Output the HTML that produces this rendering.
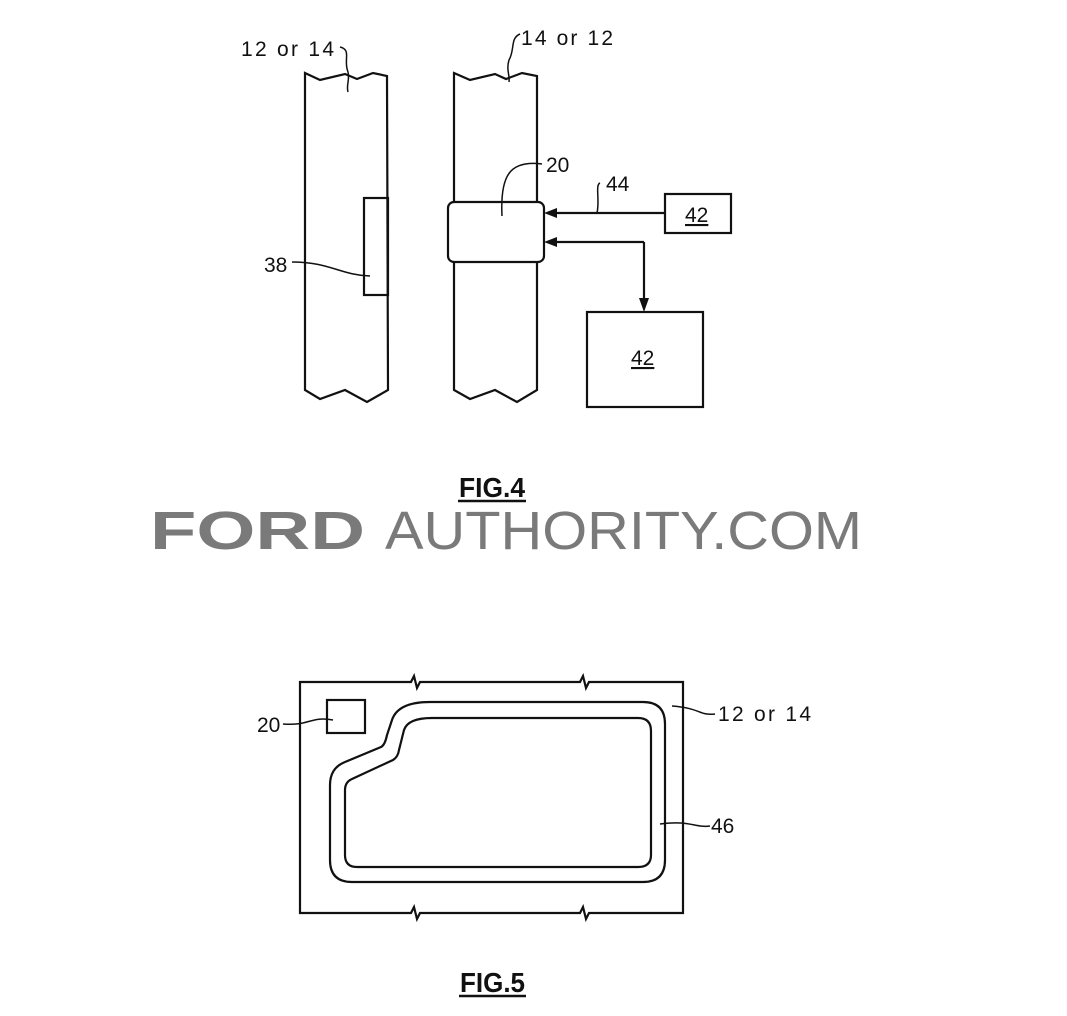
<!DOCTYPE html>
<html><head><style>body{margin:0;background:#fff}svg{display:block}</style></head><body>
<svg width="1067" height="1016" viewBox="0 0 1067 1016" xmlns="http://www.w3.org/2000/svg" font-family="Liberation Sans, sans-serif">
<g fill="none" stroke="#111" stroke-width="2.2">
<path d="M305 73 L320 80 L345 74 L357 79 L373 73 L387 76 L388 390 L367 402 L345 390 L320 399 L305 390 Z"/>
<rect x="364" y="198" width="24" height="97"/>
<path d="M292 262 C330 262 340 275 370 276" stroke-width="1.5"/>
<path d="M340 47 C352 50 343 60 348 72 C350 80 346 85 348 92" stroke-width="1.5"/>
<path d="M454 73 L470 80 L495 74 L506 79 L522 73 L537 76 L537 390 L517 402 L495 390 L470 399 L454 390 Z"/>
<rect x="448" y="202" width="96" height="60" rx="6" fill="#fff"/>
<path d="M542 164 C510 160 500 175 502 216" stroke-width="1.5"/>
<path d="M520 34 C510 38 515 50 509 60 C506 70 510 75 509 82" stroke-width="1.5"/>
<line x1="665" y1="213" x2="552" y2="213"/>
<line x1="644" y1="242" x2="552" y2="242"/>
<line x1="644" y1="242" x2="644" y2="302"/>
<path d="M600 183 C595 185 600 200 597 213" stroke-width="1.5"/>
<rect x="665" y="194" width="66" height="39"/>
<rect x="587" y="312" width="116" height="95"/>
</g>
<g fill="#111">
<polygon points="544,213 557,208 557,218"/>
<polygon points="544,242 557,237 557,247"/>
<polygon points="644,312 639,298 649,298"/>
</g>
<g font-size="21" fill="#111">
<text x="241" y="56" textLength="93" lengthAdjust="spacing">12 or 14</text>
<text x="521" y="45" textLength="92" lengthAdjust="spacing">14 or 12</text>
<text x="264" y="272">38</text>
<text x="546" y="172">20</text>
<text x="606" y="191">44</text>
<text x="685" y="222" text-decoration="underline">42</text>
<text x="631" y="365" text-decoration="underline">42</text>
</g>
<text x="459" y="497" font-size="28" font-weight="bold" fill="#111" textLength="66" lengthAdjust="spacingAndGlyphs">FIG.4</text>
<line x1="458" y1="501" x2="526" y2="501" stroke="#111" stroke-width="2.5"/>
<text x="150" y="549" font-size="54" font-weight="bold" fill="#7a7a7a" textLength="215" lengthAdjust="spacingAndGlyphs">FORD</text>
<text x="385" y="549" font-size="54" fill="#7a7a7a" textLength="477" lengthAdjust="spacingAndGlyphs">AUTHORITY.COM</text>
<g fill="none" stroke="#111" stroke-width="2.2">
<path d="M300 682 L411 682 L414 676 L417 688 L420 682 L580 682 L583 676 L586 688 L589 682 L683 682 L683 913 L589 913 L586 919 L583 907 L580 913 L420 913 L417 919 L414 907 L411 913 L300 913 Z"/>
<rect x="327" y="700" width="38" height="33"/>
<path d="M430 702 L643 702 Q665 702 665 724 L665 860 Q665 882 643 882 L352 882 Q330 882 330 860 L330 785 Q330 768 345 762 L381 747 Q385 745 387 735 L392 720 Q398 702 430 702 Z"/>
<path d="M432 718 L638 718 Q651 718 651 731 L651 855 Q651 867 638 867 L357 867 Q345 867 345 855 L345 790 Q345 782 352 779 L393 760 Q398 757 399 750 L404 730 Q408 718 432 718 Z"/>
<path d="M283 724 C310 726 310 716 333 720" stroke-width="1.5"/>
<path d="M672 706 C700 708 700 716 715 714" stroke-width="1.5"/>
<path d="M660 824 C690 820 695 828 710 826" stroke-width="1.5"/>
</g>
<g font-size="21" fill="#111">
<text x="257" y="732">20</text>
<text x="718" y="721" textLength="93" lengthAdjust="spacing">12 or 14</text>
<text x="711" y="833">46</text>
</g>
<text x="460" y="992" font-size="28" font-weight="bold" fill="#111" textLength="65" lengthAdjust="spacingAndGlyphs">FIG.5</text>
<line x1="459" y1="996" x2="526" y2="996" stroke="#111" stroke-width="2.5"/>
</svg>
</body></html>
